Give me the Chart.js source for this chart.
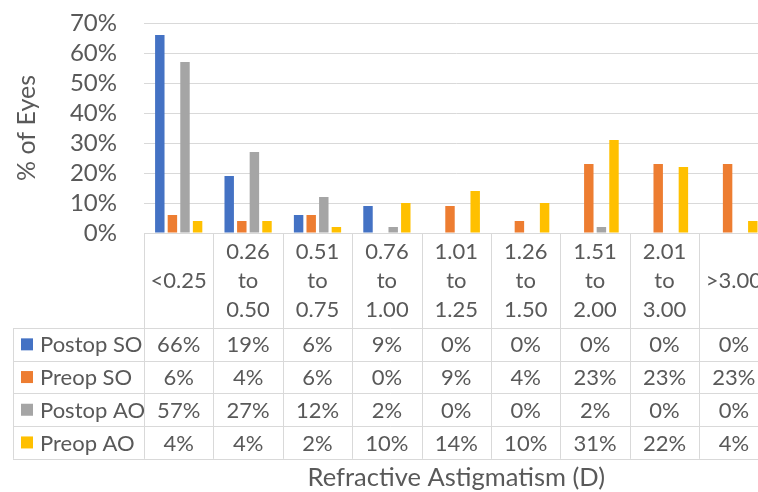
<!DOCTYPE html>
<html>
<head>
<meta charset="utf-8">
<script src="https://cdn.jsdelivr.net/npm/chart.js@4.4.1/dist/chart.umd.min.js"></script>
<style>
  html, body { margin: 0; padding: 0; background: #fff; overflow: hidden; }
  canvas { display: block; }
</style>
</head>
<body>
<canvas id="grafico" width="780" height="492"></canvas>
<script>
// categorias (rangos de astigmatismo)
const categorias = [
  ['', '<0.25', ''],
  ['0.26', 'to', '0.50'],
  ['0.51', 'to', '0.75'],
  ['0.76', 'to', '1.00'],
  ['1.01', 'to', '1.25'],
  ['1.26', 'to', '1.50'],
  ['1.51', 'to', '2.00'],
  ['2.01', 'to', '3.00'],
  ['', '>3.00', '']
];

const postopSO = [66, 19, 6, 9, 0, 0, 0, 0, 0];
const preopSO  = [6, 4, 6, 0, 9, 4, 23, 23, 23];
const postopAO = [57, 27, 12, 2, 0, 0, 2, 0, 0];
const preopAO  = [4, 4, 2, 10, 14, 10, 31, 22, 4];

const nombresSeries = ['Postop SO', 'Preop SO', 'Postop AO', 'Preop AO'];
const coloresSeries = ['#4472C4', '#ED7D31', '#A5A5A5', '#FFC000'];
const ticksY = [0, 10, 20, 30, 40, 50, 60, 70];

const gris = '#595959';
const lineaTabla = '#d9d9d9';
const fuente = 'Lato, "Open Sans", sans-serif';

// tabla de datos debajo del eje x (como en Excel)
const tablaPlugin = {
  id: 'tablaDatos',
  afterDraw(chart) {
    const {ctx, scales: {x}} = chart;
    const series = chart.data.datasets;
    const top = chart.chartArea.bottom;
    const left = chart.chartArea.left;
    const tablaIzq = 13;
    const finCabecera = 328;
    const altoFila = 32.7;
    const fondo = finCabecera + altoFila * series.length;
    const ancho = x.getPixelForValue(1) - x.getPixelForValue(0);
    const derecha = x.getPixelForValue(categorias.length - 1) + ancho / 2;

    ctx.save();
    ctx.strokeStyle = lineaTabla;
    ctx.lineWidth = 1;
    ctx.beginPath();
    // verticales
    ctx.moveTo(Math.round(left) + 0.5, top);
    ctx.lineTo(Math.round(left) + 0.5, fondo);
    for (let i = 0; i < categorias.length; i++) {
      const xb = Math.round(x.getPixelForValue(i) + ancho / 2) + 0.5;
      ctx.moveTo(xb, top);
      ctx.lineTo(xb, fondo);
    }
    ctx.moveTo(tablaIzq + 0.5, finCabecera);
    ctx.lineTo(tablaIzq + 0.5, fondo);
    // horizontales
    for (let r = 0; r <= series.length; r++) {
      const yb = Math.round(finCabecera + altoFila * r) + 0.5;
      ctx.moveTo(tablaIzq, yb);
      ctx.lineTo(derecha, yb);
    }
    ctx.stroke();

    ctx.font = '22px ' + fuente;
    ctx.textBaseline = 'middle';
    series.forEach((ds, r) => {
      const yc = finCabecera + altoFila * r + altoFila / 2;
      ctx.fillStyle = ds.backgroundColor;
      ctx.fillRect(21, yc - 6, 12, 12);
      ctx.fillStyle = gris;
      ctx.textAlign = 'left';
      ctx.fillText(ds.label, 40, yc + 1);
      ctx.textAlign = 'center';
      ds.data.forEach((v, i) => {
        ctx.fillText(v + '%', x.getPixelForValue(i), yc + 1);
      });
    });
    ctx.restore();
  }
};

const datosSeries = [postopSO, preopSO, postopAO, preopAO];

const config = {
  type: 'bar',
  data: {
    labels: categorias,
    datasets: datosSeries.map((d, i) => ({
      label: nombresSeries[i],
      data: d,
      backgroundColor: coloresSeries[i],
      categoryPercentage: 0.726,
      barPercentage: 0.75
    }))
  },
  options: {
    responsive: false,
    animation: false,
    layout: { autoPadding: false, padding: { left: 0, right: 11.4, top: 23, bottom: 0 } },
    plugins: {
      legend: { display: false },
      tooltip: { enabled: false }
    },
    scales: {
      x: {
        grid: { display: false, drawTicks: false },
        border: { display: true, color: lineaTabla },
        ticks: {
          color: gris,
          font: { family: fuente, size: 22, lineHeight: '29px' },
          padding: 4.5,
          autoSkip: false,
          maxRotation: 0
        },
        title: {
          display: true,
          text: 'Refractive Astigmatism (D)',
          color: gris,
          font: { family: fuente, size: 25.5, lineHeight: '28px' },
          padding: { top: 0, bottom: 0 }
        },
        afterFit: (scale) => { scale.height = 259; }
      },
      y: {
        min: 0,
        max: 70,
        afterBuildTicks: (scale) => { scale.ticks = ticksY.map(v => ({ value: v })); },
        grid: { color: lineaTabla, drawTicks: true, tickLength: 27, tickColor: 'rgba(0,0,0,0)' },
        border: { display: false },
        ticks: {
          color: gris,
          font: { family: fuente, size: 24 },
          padding: 0,
          autoSkip: false,
          stepSize: 10,
          callback: (v) => v + '%'
        },
        title: {
          display: true,
          text: '% of Eyes',
          color: gris,
          font: { family: fuente, size: 25, lineHeight: '28px' },
          padding: { top: 13, bottom: 0 }
        },
        afterFit: (scale) => { scale.width = 144; }
      }
    }
  },
  plugins: [tablaPlugin]
};

new Chart(document.querySelector('#grafico'), config);
</script>
</body>
</html>
